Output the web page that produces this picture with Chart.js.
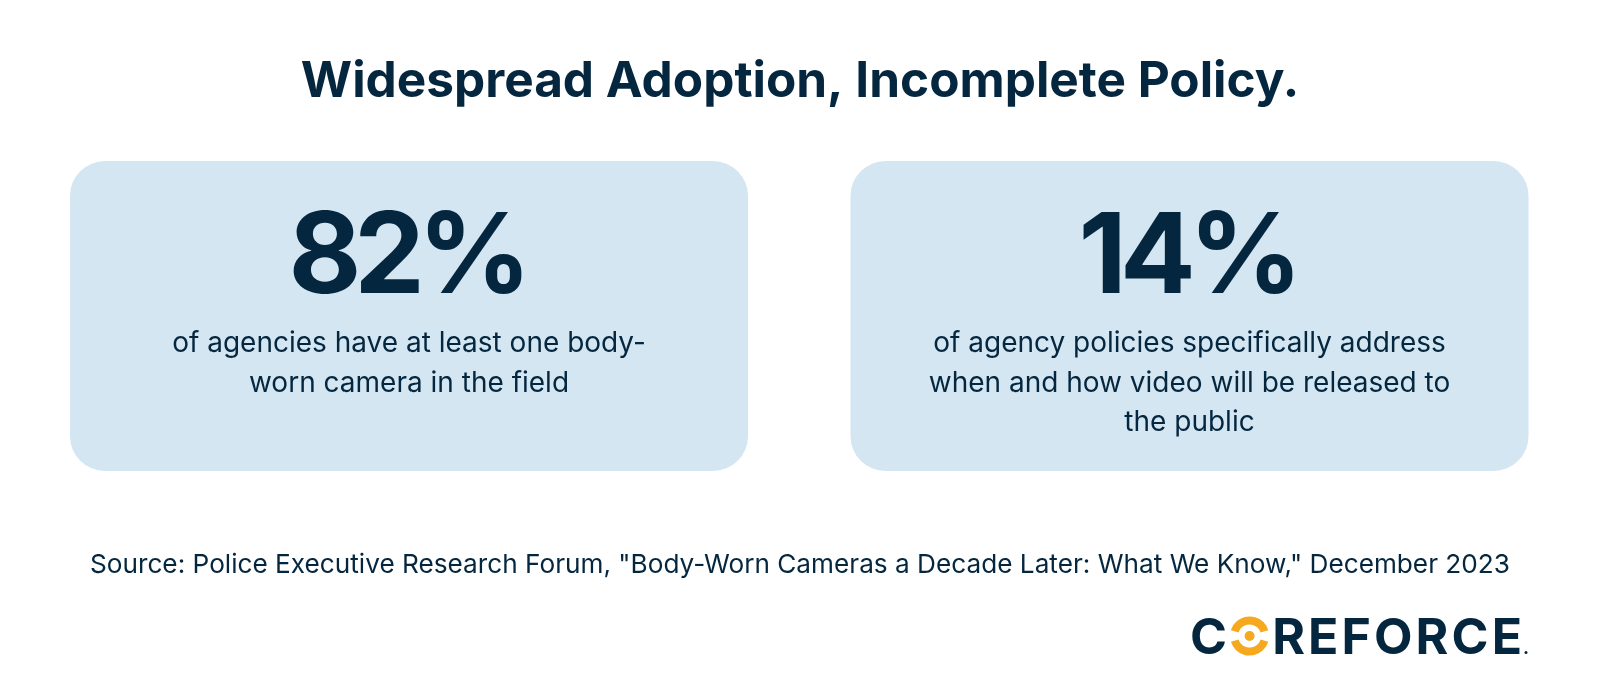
<!DOCTYPE html>
<html>
<head>
<meta charset="utf-8">
<title>Widespread Adoption, Incomplete Policy.</title>
<script src="https://cdn.jsdelivr.net/npm/chart.js@4/dist/chart.umd.min.js"></script>
<style>
  html, body { margin: 0; padding: 0; background: #ffffff; }
  canvas { display: block; }
</style>
</head>
<body>
<canvas id="canvas" width="1600" height="700"></canvas>
<script>
// data
const title = "Widespread Adoption, Incomplete Policy.";
const categories = ["Agencies with body-worn cameras", "Policies addressing video release"];
const statValues = [82, 14];
const statLines = [
  ["of agencies have at least one body-", "worn camera in the field"],
  ["of agency policies specifically address", "when and how video will be released to", "the public"],
];
const source = 'Source: Police Executive Research Forum, "Body-Worn Cameras a Decade Later: What We Know," December 2023';
const brand = "COREFORCE";

const navy = "#04263e";
const cardBlue = "#d4e6f2";
const orange = "#f6a91f";

// each card is a floating bar that fills the hidden value axis
const cardSpans = categories.map(() => [0, 1]);

function drawLogo(ctx) {
  const left = 1190, right = 1522, base = 654;
  ctx.save();
  ctx.font = "bold 50px Inter";
  ctx.textBaseline = "alphabetic";
  ctx.textAlign = "left";
  ctx.fillStyle = navy;
  const rest = brand.slice(2);
  const cW = ctx.measureText("C").width;
  const ringD = 39;
  const widths = rest.split("").map(ch => ctx.measureText(ch).width);
  const restW = widths.reduce((a, b) => a + b, 0);
  // C, ring, then the remaining letters spaced to fill the logo width
  const gap = (right - left - cW - ringD - restW) / (rest.length + 1);
  let x = left;
  ctx.fillText("C", x, base);
  x += cW + gap;
  const cx = x + ringD / 2, cy = base - 18;
  const r = ringD / 2 - 4;
  ctx.strokeStyle = orange;
  ctx.lineWidth = 8;
  ctx.beginPath();
  ctx.arc(cx, cy, r, 0.3, Math.PI - 0.3);
  ctx.stroke();
  ctx.beginPath();
  ctx.arc(cx, cy, r, Math.PI + 0.3, 2 * Math.PI - 0.3);
  ctx.stroke();
  ctx.fillStyle = orange;
  ctx.beginPath();
  ctx.arc(cx, cy, 5, 0, 2 * Math.PI);
  ctx.fill();
  x += ringD + gap;
  ctx.fillStyle = navy;
  rest.split("").forEach((ch, i) => {
    ctx.fillText(ch, x, base);
    x += widths[i] + gap;
  });
  ctx.beginPath();
  ctx.arc(right + 4, base - 1.5, 1.5, 0, 2 * Math.PI);
  ctx.fill();
  ctx.restore();
}

const textPlugin = {
  id: "cardText",
  afterDatasetsDraw(chart) {
    const ctx = chart.ctx;
    const top = chart.chartArea.top;
    const bars = chart.getDatasetMeta(0).data;
    ctx.save();
    ctx.fillStyle = navy;
    ctx.textAlign = "center";
    ctx.textBaseline = "alphabetic";

    ctx.font = "bold 49.5px Inter";
    ctx.fillText(title, chart.width / 2, 97);

    bars.forEach((bar, i) => {
      ctx.font = "bold 112px Inter";
      ctx.letterSpacing = "-7px";
      ctx.fillText(statValues[i] + "%", bar.x - 2.5, top + 132);
      ctx.letterSpacing = "0px";
      ctx.font = "28px Inter";
      statLines[i].forEach((line, j) => {
        ctx.fillText(line, bar.x, top + 191 + j * 39.7);
      });
    });

    ctx.font = "26.2px Inter";
    ctx.fillText(source, chart.width / 2, 573);
    ctx.restore();
    drawLogo(ctx);
  }
};

const ctx = document.getElementById("canvas").getContext("2d");
const chart = new Chart(ctx, {
  type: "bar",
  data: {
    labels: categories,
    datasets: [{
      data: cardSpans,
      backgroundColor: cardBlue,
      borderWidth: 0,
      borderRadius: 35,
      borderSkipped: false,
      inflateAmount: 0,
      barPercentage: 0.8687,
      categoryPercentage: 1,
    }],
  },
  options: {
    responsive: false,
    animation: false,
    devicePixelRatio: 1,
    layout: {
      padding: { top: 161, bottom: 229, left: 18.75, right: 20.25 },
    },
    scales: {
      x: { display: false },
      y: { display: false, min: 0, max: 1 },
    },
    plugins: {
      legend: { display: false },
      tooltip: { enabled: false },
    },
  },
  plugins: [textPlugin],
});
</script>
</body>
</html>
